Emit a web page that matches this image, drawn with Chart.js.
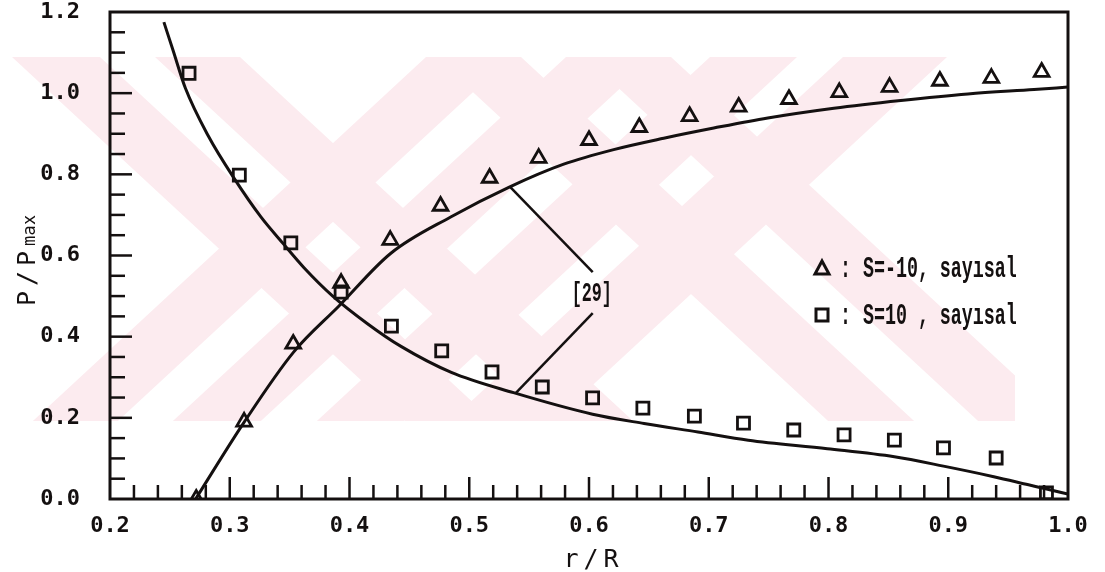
<!DOCTYPE html>
<html><head><meta charset="utf-8">
<script src="https://cdn.jsdelivr.net/npm/chart.js@4/dist/chart.umd.min.js"></script>
<style>html,body{margin:0;padding:0;background:#fff;}#wrap{width:1105px;height:572px;}</style>
</head><body><div id="wrap"><canvas id="c" width="1105" height="572"></canvas></div>
<script>
// ---- data ----
const xTickValues = [0.2, 0.3, 0.4, 0.5, 0.6, 0.7, 0.8, 0.9, 1.0];
const xTickLabels = ['0.2', '0.3', '0.4', '0.5', '0.6', '0.7', '0.8', '0.9', '1.0'];
const yTickValues = [0.0, 0.2, 0.4, 0.6, 0.8, 1.0, 1.2];
const yTickLabels = ['0.0', '0.2', '0.4', '0.6', '0.8', '1.0', '1.2'];

// S=-10 numerical (triangles)
const triX = [0.272, 0.312, 0.353, 0.393, 0.434, 0.476, 0.517, 0.558, 0.600, 0.642, 0.684, 0.725, 0.767, 0.809, 0.851, 0.893, 0.936, 0.978];
const triY = [0.000, 0.190, 0.382, 0.532, 0.638, 0.722, 0.791, 0.840, 0.884, 0.916, 0.943, 0.966, 0.985, 1.002, 1.015, 1.030, 1.037, 1.052];
// S=10 numerical (squares)
const sqX = [0.266, 0.308, 0.351, 0.393, 0.435, 0.477, 0.519, 0.561, 0.603, 0.645, 0.688, 0.729, 0.771, 0.813, 0.855, 0.896, 0.940, 0.982];
const sqY = [1.049, 0.798, 0.631, 0.510, 0.426, 0.365, 0.313, 0.276, 0.249, 0.224, 0.204, 0.187, 0.170, 0.158, 0.145, 0.126, 0.101, 0.015];
// reference [29] curves
const refDecX = [0.245, 0.2525, 0.263, 0.282, 0.303, 0.326, 0.345, 0.362, 0.386, 0.415, 0.443, 0.485, 0.537, 0.603, 0.646, 0.691, 0.733, 0.799, 0.855, 0.896, 0.938, 0.967, 0.983, 1.000];
const refDecY = [1.175, 1.107, 1.012, 0.895, 0.793, 0.695, 0.628, 0.570, 0.500, 0.432, 0.376, 0.312, 0.262, 0.209, 0.186, 0.165, 0.145, 0.124, 0.104, 0.081, 0.055, 0.035, 0.024, 0.012];
const refIncX = [0.2715, 0.3115, 0.3533, 0.391, 0.4343, 0.4845, 0.533, 0.5789, 0.6206, 0.6624, 0.7042, 0.7493, 0.8045, 0.8604, 0.9164, 0.9716, 1.000];
const refIncY = [0.000, 0.187, 0.362, 0.475, 0.605, 0.695, 0.768, 0.825, 0.861, 0.889, 0.914, 0.939, 0.963, 0.982, 0.998, 1.009, 1.015];
// annotation leaders for "[29]"
const leadUpX = [0.5345, 0.6031];
const leadUpY = [0.768, 0.559];
const leadLoX = [0.6031, 0.5388];
const leadLoY = [0.458, 0.261];
const refLabel = '[29]';
const refLabelPos = [0.6023, 0.505];
const seriesLabels = ['S=-10, sayısal', 'S=10 , sayısal'];
const axisTitleX = 'r/R';

const INK = '#141010';
const pts = (xs, ys) => xs.map((x, i) => ({x: x, y: ys[i]}));

// ---- watermark (background decoration) ----
const watermark = {
  id: 'watermark',
  beforeDraw(chart) {
    const ctx = chart.ctx;
    ctx.save();
    ctx.beginPath();
    ctx.rect(10, 57, 1005, 364);
    ctx.clip();
    ctx.fillStyle = 'rgb(252,235,239)';
    const top = 57, bot = 421, k = 1.08, h = bot - top;
    const stripes = [
      [12, 100, 1], [155, 240, 1], [435, 521, 1], [585, 671, 1],
      [426, 511, -1], [566, 654, -1], [710, 797, -1], [843, 947, -1]
    ];
    for (const [a, b, d] of stripes) {
      ctx.beginPath();
      ctx.moveTo(a, top); ctx.lineTo(b, top);
      ctx.lineTo(b + d * k * h, bot); ctx.lineTo(a + d * k * h, bot);
      ctx.closePath(); ctx.fill();
    }
    ctx.restore();
  }
};

// ---- frame, inward ticks, titles, legend, label ----
function drawSpaced(ctx, text, x, y, adv) {
  for (let i = 0; i < text.length; i++) ctx.fillText(text[i], x + i * adv, y);
}
const decor = {
  id: 'decor',
  afterDatasetsDraw(chart) {
    const ctx = chart.ctx, a = chart.chartArea;
    const xs = chart.scales.x, ys = chart.scales.y;
    ctx.save();
    ctx.strokeStyle = INK; ctx.fillStyle = INK;
    ctx.lineWidth = 3;
    ctx.strokeRect(a.left, a.top, a.right - a.left, a.bottom - a.top);
    ctx.lineWidth = 2.5;
    for (let i = 1; i < 40; i++) {
      const px = xs.getPixelForValue(0.2 + i * 0.02);
      const len = (i % 5 === 0) ? 22 : 14;
      ctx.beginPath(); ctx.moveTo(px, a.bottom); ctx.lineTo(px, a.bottom - len); ctx.stroke();
    }
    for (let i = 1; i < 24; i++) {
      const py = ys.getPixelForValue(i * 0.05);
      const len = (i % 4 === 0) ? 22 : 15;
      ctx.beginPath(); ctx.moveTo(a.left, py); ctx.lineTo(a.left + len, py); ctx.stroke();
    }
    // x title
    ctx.font = '25px "DejaVu Sans Mono"';
    ctx.textAlign = 'center'; ctx.textBaseline = 'alphabetic';
    drawSpaced(ctx, axisTitleX, 571, 567, 20);
    // y title rotated
    ctx.save();
    ctx.translate(35, 306);
    ctx.rotate(-Math.PI / 2);
    ctx.textAlign = 'left';
    ctx.font = '25px "DejaVu Sans Mono"';
    drawSpaced(ctx, 'P/P', 0, 0, 20);
    ctx.font = '17px "DejaVu Sans Mono"';
    drawSpaced(ctx, 'max', 60, 0, 10.5);
    ctx.restore();
    // [29] label
    const lx = xs.getPixelForValue(refLabelPos[0]), ly = ys.getPixelForValue(refLabelPos[1]);
    ctx.save();
    ctx.translate(lx, ly);
    ctx.scale(0.62, 1);
    ctx.font = 'bold 27px "Liberation Mono"';
    ctx.textAlign = 'center'; ctx.textBaseline = 'middle';
    ctx.fillText(refLabel, 0, 0);
    ctx.restore();
    // legend
    const rows = [{y: 268, style: 'tri', text: seriesLabels[0]}, {y: 315, style: 'sq', text: seriesLabels[1]}];
    for (const r of rows) {
      ctx.lineWidth = 3;
      ctx.beginPath();
      if (r.style === 'tri') {
        ctx.moveTo(822, r.y - 7); ctx.lineTo(829, r.y + 6); ctx.lineTo(815, r.y + 6); ctx.closePath();
      } else {
        ctx.rect(816, r.y - 6, 12, 12);
      }
      ctx.stroke();
      ctx.save();
      ctx.translate(840, r.y);
      ctx.scale(0.61, 1);
      ctx.font = 'bold 30px "Liberation Mono"';
      ctx.textAlign = 'left'; ctx.textBaseline = 'middle';
      ctx.fillText(':', 0, 1);
      ctx.fillText(r.text, (863 - 840) / 0.61, 1);
      ctx.restore();
    }
    ctx.restore();
  }
};

const tickFont = {family: '"DejaVu Sans Mono"', size: 22, weight: 'bold'};

new Chart(document.getElementById('c'), {
  type: 'scatter',
  data: {
    datasets: [
      {label: seriesLabels[0], data: pts(triX, triY), showLine: false, pointStyle: 'triangle',
       pointRadius: 8.5, pointBorderWidth: 2.8, borderColor: INK, backgroundColor: 'rgba(0,0,0,0)', pointBackgroundColor: 'rgba(0,0,0,0)'},
      {label: seriesLabels[1], data: pts(sqX, sqY), showLine: false, pointStyle: 'rect',
       pointRadius: 8.5, pointBorderWidth: 2.8, borderColor: INK, backgroundColor: 'rgba(0,0,0,0)', pointBackgroundColor: 'rgba(0,0,0,0)'},
      {label: '[29] S=10', data: pts(refDecX, refDecY), showLine: true, pointRadius: 0,
       borderColor: INK, borderWidth: 3, cubicInterpolationMode: 'monotone'},
      {label: '[29] S=-10', data: pts(refIncX, refIncY), showLine: true, pointRadius: 0,
       borderColor: INK, borderWidth: 3, cubicInterpolationMode: 'monotone'},
      {label: 'lead1', data: pts(leadUpX, leadUpY), showLine: true, pointRadius: 0, borderColor: INK, borderWidth: 2.5},
      {label: 'lead2', data: pts(leadLoX, leadLoY), showLine: true, pointRadius: 0, borderColor: INK, borderWidth: 2.5}
    ]
  },
  options: {
    responsive: false,
    devicePixelRatio: 1,
    animation: false,
    layout: {padding: {top: 12, right: 37, left: 0, bottom: 0}},
    plugins: {legend: {display: false}, tooltip: {enabled: false}, title: {display: false}},
    scales: {
      x: {
        type: 'linear', min: 0.2, max: 1.0,
        afterBuildTicks: s => { s.ticks = xTickValues.map(v => ({value: v})); },
        afterFit: s => { s.height = 73; s.paddingLeft = 0; s.paddingRight = 0; },
        grid: {display: false}, border: {display: false},
        ticks: {font: tickFont, color: INK, padding: 6, maxRotation: 0, autoSkip: false,
                callback: (v, i) => xTickLabels[i]}
      },
      y: {
        type: 'linear', min: 0, max: 1.2,
        afterBuildTicks: s => { s.ticks = yTickValues.map(v => ({value: v})); },
        afterFit: s => { s.width = 110; s.paddingTop = 0; s.paddingBottom = 0; },
        grid: {display: false}, border: {display: false},
        ticks: {font: tickFont, color: INK, padding: 22, autoSkip: false,
                callback: (v, i) => yTickLabels[i]}
      }
    }
  },
  plugins: [watermark, decor]
});
</script></body></html>
